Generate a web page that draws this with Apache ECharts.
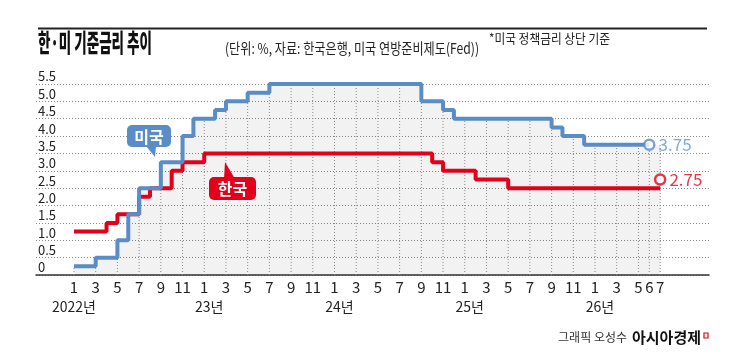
<!DOCTYPE html>
<html><head><meta charset="utf-8">
<script src="https://cdn.jsdelivr.net/npm/echarts@6/dist/echarts.min.js"></script>
<style>html,body{margin:0;padding:0;background:#fff}#c{width:745px;height:360px}</style>
</head><body><div id="c"></div>
<script>
// ---- data ----
const startYear = 2022;            // first month: Jan 2022
const monthCount = 55;             // Jan 2022 .. Jul 2026
const yearLabels = ['2022년', '23년', '24년', '25년', '26년'];
const usRate = [
  0.25,0.25,0.5,0.5,1.0,1.75,2.5,2.5,3.25,3.25,4.0,4.5,
  4.5,4.75,5.0,5.0,5.25,5.25,5.5,5.5,5.5,5.5,5.5,5.5,
  5.5,5.5,5.5,5.5,5.5,5.5,5.5,5.5,5.0,5.0,4.75,4.5,
  4.5,4.5,4.5,4.5,4.5,4.5,4.5,4.5,4.25,4.0,4.0,3.75,
  3.75,3.75,3.75,3.75,3.75,3.75
];
const krRate = [
  1.25,1.25,1.25,1.5,1.75,1.75,2.25,2.5,2.5,3.0,3.25,3.25,
  3.5,3.5,3.5,3.5,3.5,3.5,3.5,3.5,3.5,3.5,3.5,3.5,
  3.5,3.5,3.5,3.5,3.5,3.5,3.5,3.5,3.5,3.25,3.0,3.0,
  3.0,2.75,2.75,2.75,2.5,2.5,2.5,2.5,2.5,2.5,2.5,2.5,
  2.5,2.5,2.5,2.5,2.5,2.5,2.5
];
const endLabelUS = 3.75;
const endLabelKR = 2.75;
const yTicks = ['0','0.5','1.0','1.5','2.0','2.5','3.0','3.5','4.0','4.5','5.0','5.5'];

// ---- layout helpers ----
const PADL = 3, PADR = 4;
const cats = [];
for (let i = 0; i < PADL + monthCount + PADR; i++) cats.push('c' + i);
const monthOf = i => (i % 12) + 1;
const isTick = i => monthOf(i) % 2 === 1 || i >= monthCount - 3;
const pairs = arr => arr.map((v, i) => [i + PADL, v]);
// gray fill: top of US line, held to the last month
const fillVals = usRate.concat(Array(monthCount - usRate.length).fill(usRate[usRate.length - 1]));
const vlineData = [];
fillVals.forEach((v, i) => { if (isTick(i)) vlineData.push([i + PADL, v]); });

const BLUE = '#5A8DC5', RED = '#E2001A', FONT = '"Noto Sans CJK KR"';
function fit(text, font, w) {
  const c = document.createElement('canvas').getContext('2d');
  c.font = font;
  return w / c.measureText(text).width;
}
const t1 = '한·미 기준금리 추이', t2 = '(단위: %, 자료: 한국은행, 미국 연방준비제도(Fed))', t3 = '*미국 정책금리 상단 기준';
const f1 = '900 25px ' + FONT, f2 = '15px ' + FONT, f3 = '13px ' + FONT;
const s1 = fit(t1, f1, 114);
const s2 = fit(t2, f2, 254);
const s3 = fit(t3, f3, 121);

const chart = echarts.init(document.getElementById('c'), null, {renderer: 'canvas'});
chart.setOption({
  animation: false,
  backgroundColor: '#fff',
  grid: {left: 36, right: 36, top: 84, bottom: 85},
  xAxis: {
    type: 'category', data: cats, boundaryGap: true,
    axisLine: {lineStyle: {color: '#333', width: 1.5}},
    axisTick: {show: false},
    splitLine: {show: false},
    axisLabel: {
      interval: 0, margin: 3, color: '#222', fontSize: 15, lineHeight: 19, fontFamily: FONT,
      formatter: (val, idx) => {
        const i = idx - PADL;
        if (i < 0 || i >= monthCount || !isTick(i)) return '';
        const m = monthOf(i);
        if (m === 1) {
          const y = Math.floor(i / 12);
          return m + '\n{' + (y === 0 ? 'y0' : 'y') + '|' + yearLabels[y] + '}';
        }
        return String(m);
      },
      rich: {
        y0: {fontSize: 14, lineHeight: 19, color: '#222', fontFamily: FONT},
        y: {fontSize: 14, lineHeight: 19, color: '#222', fontFamily: FONT, padding: [0, 0, 0, 10]}
      }
    }
  },
  yAxis: {
    type: 'value', min: 0, max: 5.5, interval: 0.5,
    axisLine: {show: false}, axisTick: {show: false},
    splitLine: {lineStyle: {color: '#8a8a8a', width: 1, type: [1, 2]}},
    axisLabel: {
      align: 'left', margin: -2, verticalAlign: 'bottom', padding: [0, 0, 1, 0],
      fontSize: 13, color: '#222', fontFamily: FONT,
      formatter: v => yTicks[Math.round(v / 0.5)]
    }
  },
  series: [
    {
      type: 'line', step: 'end', data: pairs(fillVals), symbol: 'none', silent: true,
      lineStyle: {width: 0}, areaStyle: {color: 'rgba(0,0,0,0.07)', origin: 'start'}, z: 1
    },
    {
      type: 'custom', data: vlineData, silent: true, z: 2,
      renderItem: (params, api) => {
        const b = api.coord([api.value(0), 0]);
        const t = api.coord([api.value(0), api.value(1)]);
        return {type: 'line', shape: {x1: b[0], y1: b[1], x2: t[0], y2: t[1]},
          style: {stroke: '#8a8a8a', lineWidth: 1, lineDash: [1, 2]}};
      }
    },
    {
      type: 'line', step: 'end', data: pairs(krRate), symbol: 'none',
      lineStyle: {color: RED, width: 4}, z: 4
    },
    {
      type: 'line', step: 'end', data: pairs(usRate), symbol: 'none',
      lineStyle: {color: BLUE, width: 4}, z: 5
    },
    {
      type: 'scatter', z: 6, symbol: 'circle', symbolSize: 10,
      data: [
        {value: [PADL + usRate.length - 1, endLabelUS], itemStyle: {borderColor: BLUE},
          label: {color: '#5F95C9', formatter: endLabelUS.toFixed(2)}},
        {value: [PADL + krRate.length - 1, endLabelKR], itemStyle: {borderColor: RED},
          label: {color: RED, formatter: endLabelKR.toFixed(2)}}
      ],
      itemStyle: {color: '#fff', borderWidth: 2.5},
      label: {show: true, position: 'right', distance: 3, fontSize: 17, fontFamily: FONT}
    }
  ],
  graphic: [
    {type: 'line', shape: {x1: 38, y1: 28.5, x2: 707, y2: 28.5}, style: {stroke: '#222', lineWidth: 2}},
    {type: 'text', x: 38, y: 42.5, scaleX: s1,
      style: {text: t1, font: f1, fill: '#111', align: 'left', verticalAlign: 'middle'}},
    {type: 'text', x: 225, y: 48, scaleX: s2,
      style: {text: t2, font: f2, fill: '#222', align: 'left', verticalAlign: 'middle'}},
    {type: 'text', x: 489, y: 38.5, scaleX: s3,
      style: {text: t3, font: f3, fill: '#222', align: 'left', verticalAlign: 'middle'}},
    // callouts
    {type: 'polygon', shape: {points: [[146, 146], [156, 146], [155, 157]]}, style: {fill: BLUE}, z: 10},
    {type: 'rect', shape: {x: 127, y: 125, width: 44, height: 22, r: 5}, style: {fill: BLUE}, z: 10},
    {type: 'text', x: 149, y: 136.5, z: 11,
      style: {text: '미국', font: 'bold 16px ' + FONT, fill: '#fff', align: 'center', verticalAlign: 'middle'}},
    {type: 'polygon', shape: {points: [[224, 179], [235, 179], [225, 162]]}, style: {fill: RED}, z: 10},
    {type: 'rect', shape: {x: 209, y: 177, width: 47, height: 23, r: 5}, style: {fill: RED}, z: 10},
    {type: 'text', x: 232.5, y: 188.5, z: 11,
      style: {text: '한국', font: 'bold 16px ' + FONT, fill: '#fff', align: 'center', verticalAlign: 'middle'}},
    // credit
    {type: 'text', x: 627, y: 337, style: {text: '그래픽 오성수', font: '12px ' + FONT, fill: '#333', align: 'right', verticalAlign: 'middle'}},
    {type: 'text', x: 632, y: 337, style: {text: '아시아경제', font: 'bold 15px ' + FONT, fill: '#111', align: 'left', verticalAlign: 'middle'}},
    {type: 'rect', shape: {x: 704, y: 333, width: 4, height: 5}, style: {fill: 'none', stroke: RED, lineWidth: 1.2}}
  ]
});
</script></body></html>
